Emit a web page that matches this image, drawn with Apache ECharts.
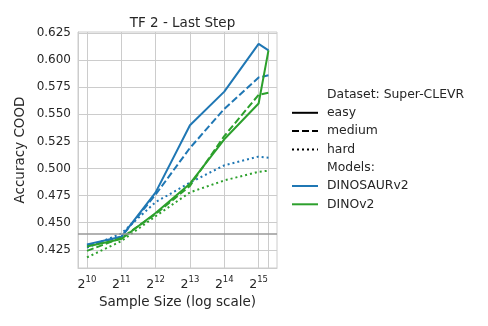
<!DOCTYPE html>
<html>
<head>
<meta charset="utf-8">
<script src="https://cdn.jsdelivr.net/npm/echarts@6/dist/echarts.min.js"></script>
<style>
  html, body { margin: 0; padding: 0; background: #fff; }
  #chart { width: 488px; height: 326px; }
</style>
</head>
<body>
<div id="chart"></div>
<script>
// sample sizes (x axis is log2)
var sampleSizes = [1024, 2048, 4096, 8192, 16384, 32768, 40000];
var tickExps = [10, 11, 12, 13, 14, 15];
var yTicks = [0.425, 0.45, 0.475, 0.5, 0.525, 0.55, 0.575, 0.6, 0.625];

// DINOSAURv2
var dinosaurEasy   = [0.430, 0.437, 0.478, 0.540, 0.571, 0.615, 0.609];
var dinosaurMedium = [0.429, 0.437, 0.476, 0.519, 0.555, 0.584, 0.586];
var dinosaurHard   = [0.427, 0.440, 0.469, 0.487, 0.503, 0.511, 0.510];
// DINOv2
var dinoEasy   = [0.428, 0.435, 0.459, 0.486, 0.527, 0.560, 0.609];
var dinoMedium = [0.424, 0.436, 0.458, 0.484, 0.530, 0.568, 0.570];
var dinoHard   = [0.418, 0.433, 0.456, 0.478, 0.489, 0.497, 0.498];

var chanceLevel = 0.4415;

var blue = '#1f77b4';
var green = '#2ca02c';
var textColor = '#262626';
var gridColor = '#cccccc';
var font = 'DejaVu Sans';

var dashMap = { easy: 'solid', medium: [7, 3], hard: [2, 3] };

function toPoints(vals) {
  var pts = [];
  for (var i = 0; i < vals.length; i++) {
    pts.push([Math.log2(sampleSizes[i]), vals[i]]);
  }
  return pts;
}

function makeSeries(name, vals, color, level) {
  return {
    name: name,
    type: 'line',
    data: toPoints(vals),
    symbol: 'none',
    lineStyle: { color: color, width: 2, type: dashMap[level], cap: 'butt' },
    itemStyle: { color: color },
    animation: false
  };
}

var series = [
  makeSeries('DINOSAURv2 easy', dinosaurEasy, blue, 'easy'),
  makeSeries('DINOSAURv2 medium', dinosaurMedium, blue, 'medium'),
  makeSeries('DINOSAURv2 hard', dinosaurHard, blue, 'hard'),
  makeSeries('DINOv2 easy', dinoEasy, green, 'easy'),
  makeSeries('DINOv2 medium', dinoMedium, green, 'medium'),
  makeSeries('DINOv2 hard', dinoHard, green, 'hard')
];
// chance line
series[0].markLine = {
  silent: true,
  symbol: 'none',
  label: { show: false },
  lineStyle: { color: '#999999', width: 1.5, type: 'solid' },
  data: [{ yAxis: chanceLevel }]
};

// legend drawn by hand (header rows are not series)
var legendRows = [
  { text: 'Dataset: Super-CLEVR' },
  { text: 'easy', color: '#000', dash: null },
  { text: 'medium', color: '#000', dash: [7, 3] },
  { text: 'hard', color: '#000', dash: [2, 3] },
  { text: 'Models:' },
  { text: 'DINOSAURv2', color: blue, dash: null },
  { text: 'DINOv2', color: green, dash: null }
];
var graphics = [];
for (var r = 0; r < legendRows.length; r++) {
  var ry = 94.5 + r * 18.3;
  var row = legendRows[r];
  graphics.push({
    type: 'text', x: 327, y: ry,
    style: { text: row.text, fill: textColor, font: '12.4px "' + font + '"', verticalAlign: 'middle' }
  });
  if (row.color) {
    graphics.push({
      type: 'line',
      shape: { x1: 292, y1: ry, x2: 318, y2: ry },
      style: { stroke: row.color, lineWidth: 2, lineDash: row.dash }
    });
  }
}

var chart = echarts.init(document.getElementById('chart'));
chart.setOption({
  backgroundColor: '#ffffff',
  animation: false,
  title: {
    text: 'TF 2 - Last Step',
    left: 177.5,
    top: 11,
    textAlign: 'center',
    textStyle: { fontFamily: font, fontSize: 13.5, fontWeight: 'normal', color: textColor }
  },
  grid: {
    left: 78, right: 211, top: 32, bottom: 58,
    show: true, borderColor: gridColor, borderWidth: 1
  },
  xAxis: {
    type: 'value',
    min: 9.738,
    max: 15.536,
    name: 'Sample Size (log scale)',
    nameLocation: 'middle',
    nameGap: 27,
    nameTextStyle: { fontFamily: font, fontSize: 13.5, color: textColor },
    axisLine: { show: true, lineStyle: { color: gridColor, width: 1 } },
    axisTick: { show: false, customValues: tickExps.concat([Math.log2(sampleSizes[6])]) },
    splitLine: { show: true, lineStyle: { color: gridColor, width: 1 } },
    axisLabel: {
      customValues: tickExps,
      margin: 7,
      formatter: function (v) { return '{b|2}{s|' + Math.round(v) + '}'; },
      rich: {
        b: { fontFamily: font, fontSize: 12.5, color: textColor, verticalAlign: 'bottom', lineHeight: 16 },
        s: { fontFamily: font, fontSize: 8.5, color: textColor, verticalAlign: 'top', lineHeight: 16 }
      }
    }
  },
  yAxis: {
    type: 'value',
    min: 0.4082,
    max: 0.626,
    name: 'Accuracy COOD',
    nameLocation: 'middle',
    nameGap: 51,
    nameTextStyle: { fontFamily: font, fontSize: 13.5, color: textColor },
    axisLine: { show: true, lineStyle: { color: gridColor, width: 1 } },
    axisTick: { show: false, customValues: yTicks },
    splitLine: { show: true, lineStyle: { color: gridColor, width: 1 } },
    axisLabel: {
      customValues: yTicks,
      margin: 7,
      fontFamily: font, fontSize: 12, color: textColor,
      formatter: function (v) { return v.toFixed(3); }
    }
  },
  graphic: graphics,
  series: series
});
</script>
</body>
</html>
